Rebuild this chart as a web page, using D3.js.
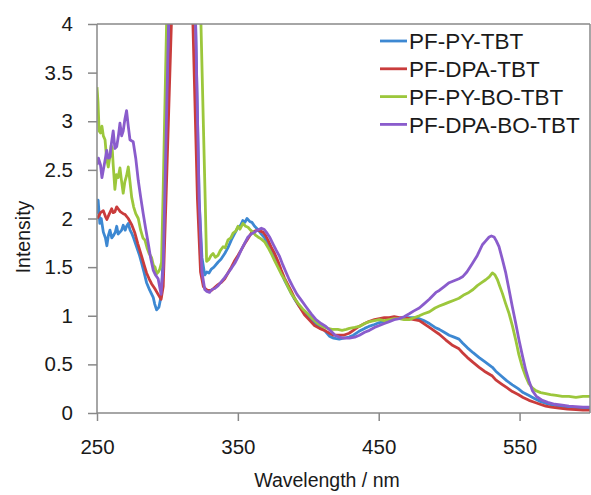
<!DOCTYPE html>
<html>
<head>
<meta charset="utf-8">
<script src="https://cdn.jsdelivr.net/npm/d3@7"></script>
<style>
  html, body { margin: 0; padding: 0; background: #fff; }
  svg { display: block; font-family: "Liberation Sans", Arial, Helvetica, sans-serif; }
</style>
</head>
<body>
<svg id="chart" width="591" height="495"></svg>
<script>
// ---- Data ----
const seriesNames = ["PF-PY-TBT", "PF-DPA-TBT", "PF-PY-BO-TBT", "PF-DPA-BO-TBT"];
const seriesColors = ["#3d88d2", "#c93c3c", "#9cc73c", "#8a5ccc"];
const xTicks = [250, 350, 450, 550];
const yTicks = [0, 0.5, 1, 1.5, 2, 2.5, 3, 3.5, 4];

// [wavelength (nm), intensity]
const pfPyTbt = [[250,2.05],[250.8,2.19],[252,1.95],[253,2.0],[254.5,1.86],[256,1.8],[257,1.72],[258,1.82],[259.2,1.88],[260.5,1.80],[261.5,1.82],[263,1.86],[264,1.92],[265,1.84],[266.3,1.86],[267.5,1.88],[268.6,1.93],[270,1.88],[271,1.92],[272.2,1.95],[273.5,1.88],[274.6,1.85],[276,1.80],[278.1,1.71],[280,1.63],[281.7,1.54],[283.5,1.44],[285.2,1.34],[287.5,1.26],[289.9,1.19],[291,1.12],[292.3,1.06],[294,1.09],[295.5,1.2],[297,1.6],[299,2.6],[301.5,4.0],[303,6],[310,9],[317,6],[320,4.0],[322.5,2.2],[324.5,1.6],[326.5,1.42],[328,1.45],[329.5,1.44],[331.2,1.48],[333,1.50],[335.9,1.55],[338,1.58],[340.7,1.64],[343,1.70],[345.4,1.78],[347.5,1.84],[350.1,1.91],[352,1.93],[353.5,1.98],[355,1.96],[356.5,2.0],[358.4,1.97],[360,1.96],[361.9,1.92],[364,1.89],[366.7,1.84],[369,1.80],[371.3,1.74],[373.5,1.68],[376.1,1.61],[378.5,1.53],[380.8,1.45],[383,1.37],[385.5,1.30],[388,1.23],[390.3,1.17],[393,1.11],[397.3,1.03],[400.5,0.98],[404.4,0.93],[408,0.88],[411.5,0.85],[415,0.79],[418,0.77],[422,0.76],[425,0.77],[429,0.78],[432,0.80],[436,0.84],[440,0.87],[443,0.89],[447,0.91],[450.5,0.93],[454,0.94],[457.5,0.96],[461,0.97],[464.6,0.97],[468,0.98],[471.7,0.98],[475,0.98],[478.8,0.97],[482,0.95],[486,0.92],[490,0.88],[493,0.86],[496.5,0.83],[500,0.80],[503.5,0.78],[507,0.76],[509.5,0.72],[513,0.67],[517,0.62],[521.3,0.57],[525,0.53],[530.7,0.47],[533.1,0.43],[537,0.38],[541,0.33],[544.9,0.29],[549,0.25],[552.5,0.21],[556.7,0.18],[560.5,0.15],[564.5,0.12],[568.6,0.10],[572.5,0.085],[578,0.07],[585,0.06],[590,0.055],[595,0.05],[600,0.05]];

const pfDpaTbt = [[250,2.0],[251,2.02],[252.5,2.06],[254.5,2.08],[256,2.02],[257,1.99],[258.5,2.04],[260.4,2.10],[261.5,2.06],[262.7,2.07],[264,2.12],[265,2.10],[266.5,2.07],[268.6,2.05],[270,2.04],[272.2,2.0],[274.5,1.94],[276.9,1.85],[279,1.74],[281.7,1.61],[283.5,1.52],[285.2,1.44],[287,1.38],[288.7,1.33],[291,1.28],[293.4,1.22],[295.5,1.17],[297,1.3],[299,2.2],[302.8,4.0],[304,6],[310,9],[316.5,6],[318.1,4.0],[321.3,2.2],[323.5,1.45],[325.5,1.3],[327.5,1.27],[329,1.26],[331.2,1.26],[333.5,1.29],[335.9,1.32],[338,1.34],[340.7,1.38],[343,1.44],[345.4,1.50],[347.5,1.56],[350.1,1.62],[352.5,1.68],[354.8,1.74],[357,1.79],[359.6,1.85],[362,1.87],[364.3,1.88],[366,1.87],[367.8,1.86],[369.5,1.83],[371.3,1.78],[373.5,1.71],[376.1,1.64],[378.5,1.56],[380.8,1.47],[383,1.39],[385.5,1.32],[388,1.25],[390.3,1.18],[393,1.11],[397.3,1.01],[400.5,0.96],[404.4,0.90],[408,0.87],[411.5,0.85],[415,0.82],[418,0.80],[422,0.80],[425,0.80],[429,0.82],[432,0.85],[436,0.89],[440,0.92],[443,0.94],[447,0.96],[450.5,0.97],[454,0.98],[457.5,0.98],[461,0.99],[464.6,0.98],[468,0.98],[471.7,0.97],[475,0.96],[478.8,0.95],[482,0.92],[486,0.88],[490,0.84],[493,0.81],[497.7,0.75],[502,0.70],[507,0.66],[509.5,0.62],[513,0.57],[517,0.52],[521.3,0.47],[525,0.43],[530.7,0.38],[533.1,0.34],[537,0.30],[541,0.26],[544.9,0.22],[549,0.19],[552.5,0.16],[556.7,0.13],[560.5,0.11],[564.5,0.09],[568.6,0.07],[572.5,0.06],[578,0.05],[584,0.04],[590,0.035],[595,0.03],[600,0.03]];

const pfPyBoTbt = [[250,3.35],[250.7,3.2],[251.5,2.9],[252.5,2.88],[253.5,2.95],[254.5,2.85],[255.7,2.81],[256.8,2.62],[258,2.53],[259,2.62],[260,2.75],[260.8,2.72],[261.5,2.55],[262.7,2.30],[263.8,2.45],[265,2.42],[266.3,2.52],[267.3,2.40],[268.6,2.26],[269.8,2.38],[271,2.44],[272.2,2.53],[273.4,2.38],[274.6,2.22],[276,2.12],[277.5,2.05],[279.3,2.0],[281,1.88],[282.6,1.80],[284,1.78],[285.5,1.70],[287,1.64],[288.7,1.60],[290,1.52],[291.2,1.50],[292.3,1.43],[293.5,1.45],[294.6,1.48],[295.8,1.55],[297,2.3],[299.4,4.0],[301,6],[310,9],[322,6],[323.8,4.0],[326.8,2.2],[327.8,1.56],[329.5,1.58],[331,1.62],[332.4,1.64],[334,1.60],[335.9,1.62],[337.5,1.67],[339.5,1.71],[341,1.70],[343,1.78],[345,1.80],[346.6,1.85],[348.5,1.87],[350.1,1.92],[351.5,1.89],[353.6,1.95],[355.5,1.92],[357.2,1.91],[359,1.88],[360.7,1.86],[362.5,1.83],[364.3,1.81],[366.5,1.79],[369,1.76],[371.5,1.70],[373.7,1.64],[376,1.57],[378.4,1.50],[380.8,1.43],[383.2,1.37],[385.5,1.30],[387.9,1.23],[390.2,1.18],[392.6,1.13],[396,1.07],[399.7,1.02],[403,0.97],[406.8,0.92],[410,0.89],[413.8,0.87],[417,0.86],[420.9,0.86],[424,0.85],[427,0.86],[429.2,0.87],[433,0.88],[436.3,0.89],[440,0.92],[443.4,0.94],[447,0.95],[450.5,0.96],[454,0.95],[457.5,0.96],[461,0.97],[464.6,0.97],[468,0.96],[471.7,0.96],[475,0.98],[478.8,1.0],[482,1.02],[485.9,1.04],[490,1.08],[493,1.10],[496.5,1.12],[500,1.14],[503.5,1.16],[507,1.18],[510,1.21],[514,1.24],[517,1.27],[520,1.31],[523,1.34],[526,1.37],[528.5,1.40],[530.7,1.44],[532.5,1.42],[534.3,1.37],[536,1.30],[537.8,1.23],[540,1.13],[542.6,1.02],[545,0.89],[547.3,0.75],[549.5,0.60],[552,0.47],[554.5,0.37],[556.7,0.30],[559,0.26],[561.5,0.23],[565,0.21],[568.6,0.20],[572,0.19],[576,0.18],[580.3,0.17],[585,0.17],[590,0.16],[595,0.17],[600,0.17]];

const pfDpaBoTbt = [[250,2.55],[251,2.62],[252.5,2.55],[253.5,2.42],[254.5,2.50],[255.5,2.58],[256.9,2.70],[258,2.62],[259.2,2.63],[260.3,2.78],[261.5,2.90],[262.7,2.72],[264,2.74],[265.2,2.85],[266.3,2.98],[267.5,2.85],[268.6,2.90],[269.8,3.02],[271,3.11],[272.2,2.95],[273.4,2.81],[274.5,2.80],[275.7,2.79],[277.5,2.62],[279.3,2.39],[281,2.22],[282.8,2.05],[284.5,1.90],[286.3,1.75],[288,1.60],[289.9,1.47],[291.5,1.42],[293.4,1.38],[295.5,1.22],[297,1.5],[299,2.8],[300.8,4.0],[302,6],[310,9],[318,6],[320,4.0],[322.5,2.2],[324.5,1.45],[326.5,1.27],[328,1.25],[329.9,1.24],[331.5,1.27],[333.6,1.28],[336,1.31],[338.3,1.35],[340.5,1.39],[343,1.44],[345.5,1.49],[347.8,1.54],[350,1.60],[352.5,1.68],[355,1.75],[357.2,1.81],[359.5,1.84],[361.9,1.86],[364,1.88],[366.7,1.90],[368.5,1.89],[370.2,1.86],[372.5,1.81],[374.9,1.74],[377,1.68],[379.6,1.61],[382,1.52],[384.4,1.44],[386.5,1.37],[389,1.30],[392,1.22],[395,1.16],[398.5,1.09],[402.1,1.02],[405.5,0.96],[409.1,0.92],[412.5,0.89],[416.2,0.84],[419,0.80],[422,0.78],[425,0.77],[429.2,0.77],[433,0.78],[436.3,0.80],[440,0.83],[443.4,0.85],[447,0.88],[450.5,0.90],[454,0.92],[457.5,0.94],[461,0.96],[464.6,0.97],[468,0.99],[471.7,1.02],[475,1.05],[478.8,1.08],[482,1.12],[485.9,1.17],[490.6,1.24],[493,1.26],[496.5,1.30],[500,1.34],[503.5,1.36],[507,1.38],[509.5,1.40],[512.6,1.45],[516.6,1.54],[520,1.62],[523.6,1.73],[526,1.77],[528.4,1.81],[530,1.82],[531.9,1.81],[533.5,1.77],[535.4,1.71],[537.8,1.58],[540.2,1.44],[542.5,1.27],[544.9,1.09],[547.3,0.92],[549.6,0.75],[552,0.59],[554.4,0.44],[556.7,0.33],[559.1,0.23],[562,0.17],[566.2,0.13],[570,0.11],[575,0.09],[580.3,0.08],[585,0.07],[590,0.065],[595,0.06],[600,0.06]];

const seriesData = [pfPyTbt, pfDpaTbt, pfPyBoTbt, pfDpaBoTbt];

// ---- Layout ----
const svg = d3.select("#chart");
const margin = { left: 97, right: 1, top: 24, bottom: 82 };
const W = 591, H = 495;
const pw = W - margin.left - margin.right;
const ph = H - margin.top - margin.bottom;
const axisColor = "#888888";
const textColor = "#1a1a1a";
const tickFont = 20.5;
const titleFont = 19.5;

const x = d3.scaleLinear().domain([250, 600]).range([0, pw]);
const y = d3.scaleLinear().domain([0, 4]).range([ph, 0]);

const g = svg.append("g").attr("transform", `translate(${margin.left},${margin.top})`);

g.append("clipPath").attr("id", "clip")
  .append("rect").attr("x", 0).attr("y", 0).attr("width", pw).attr("height", ph);

// Lines
const line = d3.line().x(d => x(d[0])).y(d => y(d[1]));
const linesG = g.append("g").attr("clip-path", "url(#clip)");
seriesData.forEach((s, i) => {
  linesG.append("path")
    .datum(s)
    .attr("d", line)
    .attr("fill", "none")
    .attr("stroke", seriesColors[i])
    .attr("stroke-width", 2.8)
    .attr("stroke-linejoin", "round");
});

// Frame (top & right)
g.append("line").attr("x1", 0).attr("x2", pw).attr("y1", 0).attr("y2", 0)
  .attr("stroke", axisColor).attr("stroke-width", 1.5);
g.append("line").attr("x1", pw).attr("x2", pw).attr("y1", 0).attr("y2", ph)
  .attr("stroke", axisColor).attr("stroke-width", 1.5);

// Axes
const xAxis = d3.axisBottom(x).tickValues(xTicks).tickSize(8).tickPadding(18).tickFormat(d3.format("d"));
const yAxis = d3.axisLeft(y).tickValues(yTicks).tickSize(9).tickPadding(15).tickFormat(d => String(d));

const gx = g.append("g").attr("transform", `translate(0,${ph})`).call(xAxis);
const gy = g.append("g").call(yAxis);

[gx, gy].forEach(ax => {
  ax.select(".domain").attr("stroke", axisColor).attr("stroke-width", 1.5);
  ax.selectAll(".tick line").attr("stroke", axisColor).attr("stroke-width", 1.5);
  ax.selectAll(".tick text").attr("fill", textColor)
    .style("font-size", tickFont + "px")
    .style("font-family", '"Liberation Sans", Arial, sans-serif');
});
gy.select(".domain").attr("d", `M0,${ph}V0`);
gx.select(".domain").attr("d", `M0,0H${pw}`);

// Axis titles
svg.append("text")
  .attr("x", 327).attr("y", 487)
  .attr("text-anchor", "middle")
  .attr("fill", textColor)
  .style("font-size", titleFont + "px")
  .text("Wavelength / nm");

svg.append("text")
  .attr("transform", "translate(30,237) rotate(-90)")
  .attr("text-anchor", "middle")
  .attr("fill", textColor)
  .style("font-size", titleFont + "px")
  .text("Intensity");

// Legend
const legend = svg.append("g");
const legendY0 = 41, legendStep = 27.8;
seriesNames.forEach((name, i) => {
  const ly = legendY0 + i * legendStep;
  legend.append("line")
    .attr("x1", 380).attr("x2", 407).attr("y1", ly).attr("y2", ly)
    .attr("stroke", seriesColors[i]).attr("stroke-width", 2.8);
  legend.append("text")
    .attr("x", 409).attr("y", ly)
    .attr("dy", "0.36em")
    .attr("fill", textColor)
    .style("font-size", "22.5px")
    .text(name);
});
</script>
</body>
</html>
